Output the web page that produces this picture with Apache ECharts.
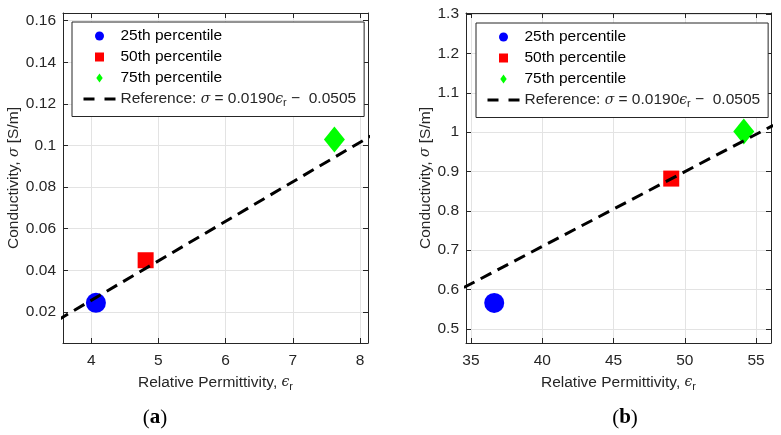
<!DOCTYPE html>
<html>
<head>
<meta charset="utf-8">
<script src="https://cdn.jsdelivr.net/npm/echarts@6/dist/echarts.min.js"></script>
<style>
html, body { margin: 0; padding: 0; background: #fff; }
#main { width: 781px; height: 435px; }
</style>
</head>
<body>
<div id="main"></div>
<script>
var pctNames = ['25th percentile', '50th percentile', '75th percentile'];
var refName = 'Reference';

// panel (a)
var permA = [4.07, 4.81, 7.62];
var condA = [0.0243, 0.0448, 0.1029];
var refAx = [3.5, 8.2];
var refAy = [0.0160, 0.1053];
var xTicksA = [4, 5, 6, 7, 8];
var yTicksA = [0.02, 0.04, 0.06, 0.08, 0.1, 0.12, 0.14, 0.16];

// panel (b)
var permB = [36.63, 49.05, 54.14];
var condB = [0.566, 0.882, 1.002];
var refBx = [34.5, 56.2];
var refBy = [0.605, 1.0173];
var xTicksB = [35, 40, 45, 50, 55];
var yTicksB = [0.5, 0.6, 0.7, 0.8, 0.9, 1, 1.1, 1.2, 1.3];

var FONT = '"Liberation Sans", Arial, Helvetica, sans-serif';
var AX = '#262626';
var GRIDC = '#e3e3e3';
var FS = 15.5;

var rich = {
	n: { fontFamily: FONT, fontSize: FS, color: AX },
	i: { fontFamily: 'DejaVu Serif', fontStyle: 'italic', fontSize: 14, color: AX },
	s: { fontFamily: FONT, fontSize: 11, color: AX, padding: [8, 0, 0, 0] }
};

function fmt(v) {
	return String(+v.toFixed(3));
}

function xAxisCfg(gi, min, max, ticks, pos) {
	var main = pos === 'bottom';
	return {
		type: 'value', gridIndex: gi, position: pos, min: min, max: max,
		axisLine: { show: true, onZero: false, lineStyle: { color: AX, width: 1 } },
		axisTick: { show: true, inside: true, length: 5, customValues: ticks, lineStyle: { color: AX } },
		axisLabel: { show: main, customValues: ticks, formatter: fmt, margin: 10,
			fontFamily: FONT, fontSize: FS, color: AX },
		splitLine: { show: main, lineStyle: { color: GRIDC } },
		name: main ? '{n|Relative Permittivity, }{i|ϵ}{s|r}' : '',
		nameLocation: 'middle', nameGap: 30,
		nameTextStyle: { rich: rich }
	};
}

function yAxisCfg(gi, min, max, ticks, pos, gap) {
	var main = pos === 'left';
	return {
		type: 'value', gridIndex: gi, position: pos, min: min, max: max,
		axisLine: { show: true, onZero: false, lineStyle: { color: AX, width: 1 } },
		axisTick: { show: true, inside: true, length: 5, customValues: ticks, lineStyle: { color: AX } },
		axisLabel: { show: main, customValues: ticks, formatter: fmt, margin: 7,
			fontFamily: FONT, fontSize: FS, color: AX },
		splitLine: { show: main, lineStyle: { color: GRIDC } },
		name: main ? '{n|Conductivity, }{i|σ}{n| [S/m]}' : '',
		nameLocation: 'middle', nameGap: gap, nameRotate: 90,
		nameTextStyle: { rich: rich }
	};
}

function pairs(xs, ys) {
	return xs.map(function (x, i) { return [x, ys[i]]; });
}

function panelSeries(xi, yi, perm, cond, rx, ry) {
	var marks = [
		{ symbol: 'circle', size: 20, color: '#0000ff' },
		{ symbol: 'rect', size: 16, color: '#ff0000' },
		{ symbol: 'diamond', size: [21, 26], color: '#00ff00' }
	];
	var out = [{
		name: refName, type: 'line', xAxisIndex: xi, yAxisIndex: yi,
		data: pairs(rx, ry), symbol: 'none', silent: true, z: 3,
		itemStyle: { color: '#000' },
		lineStyle: { color: '#000', width: 3, type: [12, 7] }
	}];
	marks.forEach(function (m, i) {
		out.push({
			name: pctNames[i], type: 'scatter', xAxisIndex: xi, yAxisIndex: yi,
			data: [[perm[i], cond[i]]], symbol: m.symbol, symbolSize: m.size, z: 2,
			itemStyle: { color: m.color, opacity: 1 }
		});
	});
	return out;
}

function legendCfg(left, top) {
	return {
		orient: 'vertical', left: left, top: top,
		data: [
			{ name: pctNames[0], icon: 'circle' },
			{ name: pctNames[1], icon: 'path://M0,0L10,0L10,10L0,10Z' },
			{ name: pctNames[2], icon: 'path://M5,0L10,7L5,14L0,7Z' },
			{ name: refName, itemStyle: { opacity: 0 } }
		],
		itemWidth: 32, itemHeight: 9, itemGap: 5,
		symbolKeepAspect: true,
		padding: [6, 8, 8, 10],
		backgroundColor: '#fff', borderColor: AX, borderWidth: 1, borderRadius: 0,
		lineStyle: { type: [11, 10], width: 3, color: '#000' },
		selectedMode: false,
		textStyle: { fontFamily: FONT, fontSize: FS, color: '#000', rich: rich },
		formatter: function (name) {
			if (name === refName) {
				return '{n|Reference: }{i|σ}{n| = 0.0190}{i|ϵ}{s|r}{n| −  0.0505}';
			}
			return name;
		}
	};
}

var chart = echarts.init(document.getElementById('main'));
chart.setOption({
	animation: false,
	backgroundColor: '#fff',
	grid: [
		{ left: 63, right: 413, top: 13, bottom: 92 },
		{ left: 466, right: 10, top: 13, bottom: 92 }
	],
	xAxis: [
		xAxisCfg(0, 3.58, 8.12, xTicksA, 'bottom'),
		xAxisCfg(1, 34.65, 56.05, xTicksB, 'bottom'),
		xAxisCfg(0, 3.58, 8.12, xTicksA, 'top'),
		xAxisCfg(1, 34.65, 56.05, xTicksB, 'top')
	],
	yAxis: [
		yAxisCfg(0, 0.005, 0.1637, yTicksA, 'left', 40),
		yAxisCfg(1, 0.464, 1.303, yTicksB, 'left', 32),
		yAxisCfg(0, 0.005, 0.1637, yTicksA, 'right', 0),
		yAxisCfg(1, 0.464, 1.303, yTicksB, 'right', 0)
	],
	legend: [legendCfg(72, 22), legendCfg(476, 23)],
	series: panelSeries(0, 0, permA, condA, refAx, refAy)
		.concat(panelSeries(1, 1, permB, condB, refBx, refBy)),
	graphic: [
		{ type: 'text', x: 155, y: 418, style: { text: '{p|(}{b|a}{p|)}', align: 'center', verticalAlign: 'middle',
			rich: { p: { fontFamily: 'Liberation Serif', fontSize: 21, fill: '#000' },
				b: { fontFamily: 'Liberation Serif', fontSize: 21, fontWeight: 'bold', fill: '#000' } } } },
		{ type: 'text', x: 625, y: 418, style: { text: '{p|(}{b|b}{p|)}', align: 'center', verticalAlign: 'middle',
			rich: { p: { fontFamily: 'Liberation Serif', fontSize: 21, fill: '#000' },
				b: { fontFamily: 'Liberation Serif', fontSize: 21, fontWeight: 'bold', fill: '#000' } } } }
	]
});
</script>
</body>
</html>
